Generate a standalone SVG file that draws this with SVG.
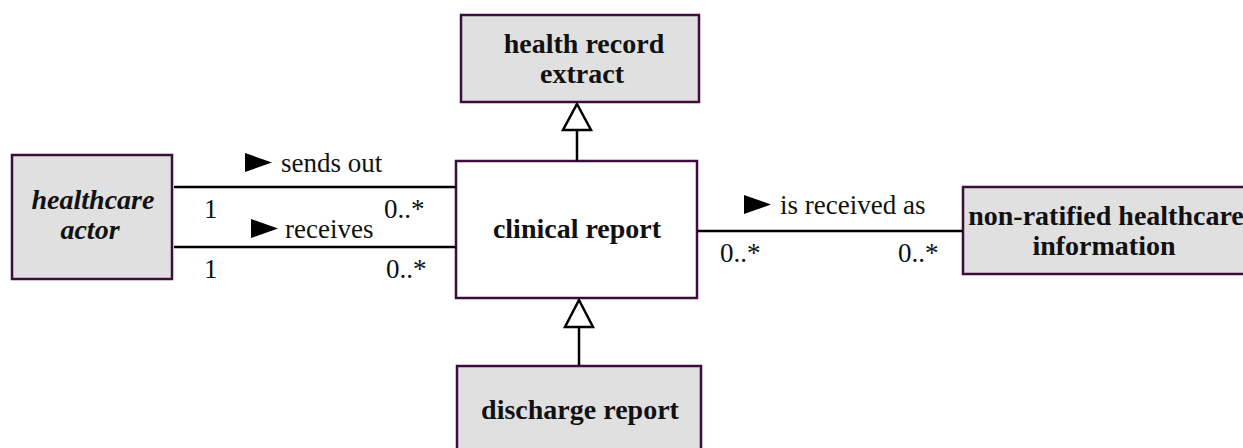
<svg xmlns="http://www.w3.org/2000/svg" width="1243" height="448" viewBox="0 0 1243 448">
  <style>
    .box { stroke: #3d0c3d; stroke-width: 2.5; }
    .grey { fill: #e0e0e0; }
    .white { fill: #ffffff; }
    .name { font-family: "Liberation Serif", "Times New Roman", serif; font-size: 28px; font-weight: bold; fill: #111; text-anchor: middle; }
    .label { font-family: "Liberation Serif", "Times New Roman", serif; font-size: 27px; fill: #111; }
    .line { stroke: #000; stroke-width: 2.5; fill: none; }
    .gen { fill: #fff; stroke: #000; stroke-width: 2.5; }
    .dir { fill: #000; }
  </style>
  <rect width="1243" height="448" fill="#fff"/>

  <g id="health-record-extract">
    <rect class="box grey" x="461" y="15" width="238" height="87"/>
    <text class="name" x="584" y="53">health record</text>
    <text class="name" x="582" y="83">extract</text>
  </g>

  <g id="healthcare-actor">
    <rect class="box grey" x="12" y="155" width="160" height="124"/>
    <text class="name" x="93" y="209" font-style="italic">healthcare</text>
    <text class="name" x="90" y="239" font-style="italic">actor</text>
  </g>

  <g id="clinical-report">
    <rect class="box white" x="456" y="161" width="241" height="137"/>
    <text class="name" x="577" y="238">clinical report</text>
  </g>

  <g id="non-ratified-healthcare-information">
    <rect class="box grey" x="963" y="187" width="290" height="87"/>
    <text class="name" x="1106" y="225">non-ratified healthcare</text>
    <text class="name" x="1104" y="255">information</text>
  </g>

  <g id="discharge-report">
    <rect class="box grey" x="457" y="366" width="244" height="90"/>
    <text class="name" x="580" y="419">discharge report</text>
  </g>

  <g id="connectors">
    <!-- sends out -->
    <line class="line" x1="174" y1="187" x2="456" y2="187"/>
    <polygon class="dir" points="245,153 272,162.5 245,172"/>
    <text class="label" x="281" y="172">sends out</text>
    <text class="label" x="204" y="218">1</text>
    <text class="label" x="384" y="218">0..*</text>

    <!-- receives -->
    <line class="line" x1="174" y1="247" x2="456" y2="247"/>
    <polygon class="dir" points="251,219 278,228.5 251,238"/>
    <text class="label" x="285" y="238">receives</text>
    <text class="label" x="204" y="278">1</text>
    <text class="label" x="386" y="278">0..*</text>

    <!-- is received as -->
    <line class="line" x1="697" y1="231" x2="963" y2="231"/>
    <polygon class="dir" points="744,195 771,204.5 744,214"/>
    <text class="label" x="780" y="214">is received as</text>
    <text class="label" x="720" y="262">0..*</text>
    <text class="label" x="898" y="262">0..*</text>

    <!-- generalization: clinical report to health record extract -->
    <line class="line" x1="577" y1="130" x2="577" y2="161"/>
    <polygon class="gen" points="577,104 591,130 563,130"/>

    <!-- generalization: discharge report to clinical report -->
    <line class="line" x1="579" y1="327" x2="579" y2="366"/>
    <polygon class="gen" points="579,300 593,327 565,327"/>
  </g>
</svg>
